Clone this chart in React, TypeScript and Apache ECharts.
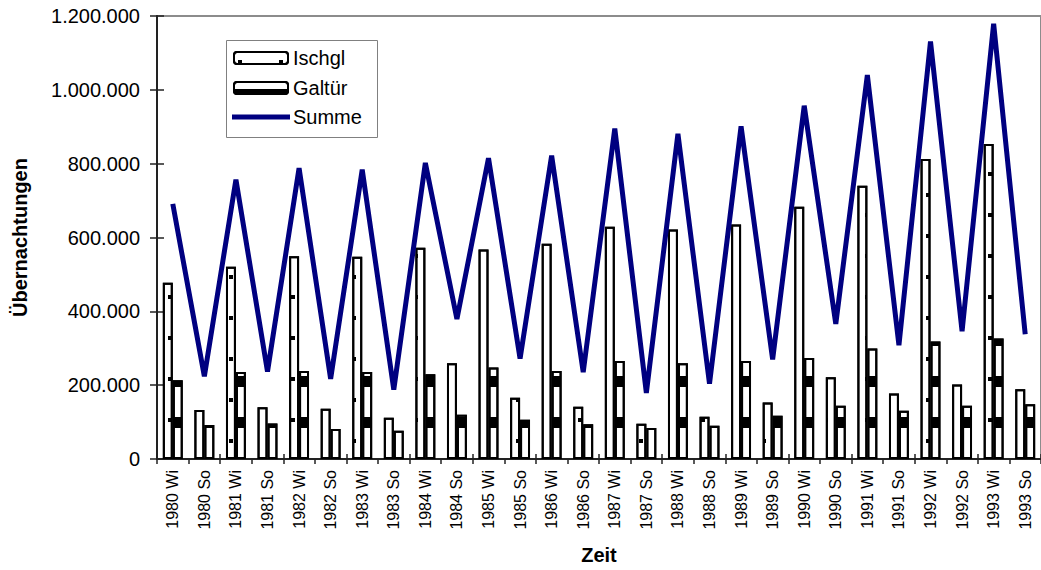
import React, { useEffect, useRef } from "react";
import * as echarts from "echarts";

const categories = [
  "1980 Wi", "1980 So", "1981 Wi", "1981 So", "1982 Wi", "1982 So", "1983 Wi", "1983 So",
  "1984 Wi", "1984 So", "1985 Wi", "1985 So", "1986 Wi", "1986 So", "1987 Wi", "1987 So",
  "1988 Wi", "1988 So", "1989 Wi", "1989 So", "1990 Wi", "1990 So", "1991 Wi", "1991 So",
  "1992 Wi", "1992 So", "1993 Wi", "1993 So",
];

const ischgl = [
  477600, 132400, 520800, 140500, 549500, 136000, 548000, 111600,
  572000, 259500, 567600, 165700, 583000, 141400, 628900, 95400,
  621600, 114300, 635000, 153200, 683000, 221600, 740500, 177600,
  812700, 201800, 853200, 189200,
];

const galtuer = [
  213500, 91900, 236000, 96400, 238700, 81000, 236000, 76600,
  229700, 119700, 247800, 106200, 238700, 93800, 265700, 83800,
  259500, 90000, 265700, 117000, 273800, 144100, 299200, 130600,
  318000, 144100, 326200, 148600,
];

const summe = [
  691000, 224000, 757000, 237000, 788000, 217000, 784000, 188000,
  802000, 379000, 815000, 272000, 822000, 235000, 895000, 179000,
  881000, 204000, 901000, 270000, 957000, 366000, 1040000, 308000,
  1131000, 346000, 1179000, 338000,
];

const yMin = 0;
const yMax = 1200000;
const yStep = 200000;

const FONT = "'Liberation Sans', Arial, Helvetica, sans-serif";
const NAVY = "#000080";

const fmt = (v: number) => String(v).replace(/\B(?=(\d{3})+(?!\d))/g, ".");

export default function App() {
  const ref = useRef<HTMLDivElement>(null);

  useEffect(() => {
    if (!ref.current) return;
    const chart = echarts.init(ref.current, undefined, { renderer: "svg" });
    chart.setOption({
      animation: false,
      backgroundColor: "#ffffff",
      textStyle: { fontFamily: FONT },
      grid: {
        left: 157,
        top: 16,
        right: -8,
        bottom: 110,
        show: true,
        borderColor: "#8c8c8c",
        borderWidth: 2,
        backgroundColor: "transparent",
      },
      graphic: [
        {
          type: "rect",
          z: 3,
          shape: { x: 226.5, y: 40.5, width: 151, height: 97 },
          style: { fill: "#ffffff", stroke: "#808080", lineWidth: 1 },
        },
      ],
      legend: [
        {
          orient: "vertical",
          left: 227,
          top: 42,
          z: 10,
          itemWidth: 54,
          itemHeight: 12,
          itemGap: 10,
          padding: [6, 16, 0, 6],
          textStyle: { fontSize: 20, color: "#000", fontFamily: FONT },
          data: ["Ischgl", "Galtür"],
        },
        {
          orient: "vertical",
          left: 227,
          top: 107,
          z: 10,
          itemWidth: 58,
          itemHeight: 5,
          padding: [0, 16, 0, 5],
          textStyle: { fontSize: 20, color: "#000", fontFamily: FONT, padding: [0, 0, 0, -2] },
          data: [{ name: "Summe", icon: "rect", itemStyle: { color: NAVY, borderWidth: 0 } }],
        },
      ],
      xAxis: [
        {
          type: "category",
          data: categories,
          boundaryGap: true,
          name: "Zeit",
          nameLocation: "middle",
          nameGap: 86,
          nameTextStyle: { fontSize: 20, fontWeight: "bold", color: "#000", fontFamily: FONT },
          axisLine: { show: true, lineStyle: { color: "#222", width: 2 } },
          axisTick: { show: true, length: 5, lineStyle: { color: "#222", width: 1.5 } },
          axisLabel: { rotate: 90, interval: 0, margin: 11, fontSize: 16, color: "#000", fontFamily: FONT },
          splitLine: { show: false },
        },
        {
          type: "category",
          data: categories,
          boundaryGap: true,
          position: "bottom",
          axisLine: { show: false },
          axisTick: { show: true, inside: true, length: 5, lineStyle: { color: "#222", width: 1.5 } },
          axisLabel: { show: false },
          splitLine: { show: false },
        },
      ],
      yAxis: [
        {
          type: "value",
          min: yMin,
          max: yMax,
          interval: yStep,
          name: "Übernachtungen",
          nameLocation: "middle",
          nameGap: 127,
          nameRotate: 90,
          nameTextStyle: { fontSize: 20, fontWeight: "bold", color: "#000", fontFamily: FONT },
          axisLine: { show: true, lineStyle: { color: "#222", width: 2 } },
          axisTick: { show: true, length: 7, lineStyle: { color: "#222", width: 1.5 } },
          axisLabel: { margin: 17, fontSize: 20, color: "#000", fontFamily: FONT, formatter: (v: number) => fmt(v) },
          splitLine: { show: false },
        },
        {
          type: "value",
          min: yMin,
          max: yMax,
          interval: yStep,
          position: "left",
          axisLine: { show: false },
          axisTick: { show: true, inside: true, length: 7, lineStyle: { color: "#222", width: 1.5 } },
          axisLabel: { show: false },
          splitLine: { show: false },
        },
      ],
      series: [
        {
          name: "Ischgl",
          type: "bar",
          data: ischgl,
          barGap: "0%",
          barCategoryGap: "37%",
          itemStyle: {
            color: "#ffffff",
            borderColor: "#000",
            borderWidth: 2,
            decal: {
              symbol: "rect",
              symbolSize: 1,
              symbolKeepAspect: false,
              color: "#000",
              dashArrayX: [[0, 41], [0, 4, 4, 33], [0, 24, 4, 13]],
              dashArrayY: [0, 8, 4, 17, 4, 8],
            },
          },
        },
        {
          name: "Galtür",
          type: "bar",
          data: galtuer,
          barGap: "0%",
          barCategoryGap: "37%",
          itemStyle: {
            color: "#ffffff",
            borderColor: "#000",
            borderWidth: 2,
            decal: {
              symbol: "rect",
              symbolSize: 1,
              symbolKeepAspect: false,
              color: "#000",
              dashArrayX: [[20, 0]],
              dashArrayY: [0, 7, 11, 23],
            },
          },
        },
        {
          name: "Summe",
          type: "line",
          data: summe,
          symbol: "none",
          showSymbol: false,
          z: 5,
          itemStyle: { color: NAVY },
          lineStyle: { color: NAVY, width: 5, join: "bevel" },
        },
      ],
    });
    return () => chart.dispose();
  }, []);

  return (
    <div
      ref={ref}
      style={{ position: "absolute", left: 0, top: 0, width: 1041, height: 570 }}
    />
  );
}
